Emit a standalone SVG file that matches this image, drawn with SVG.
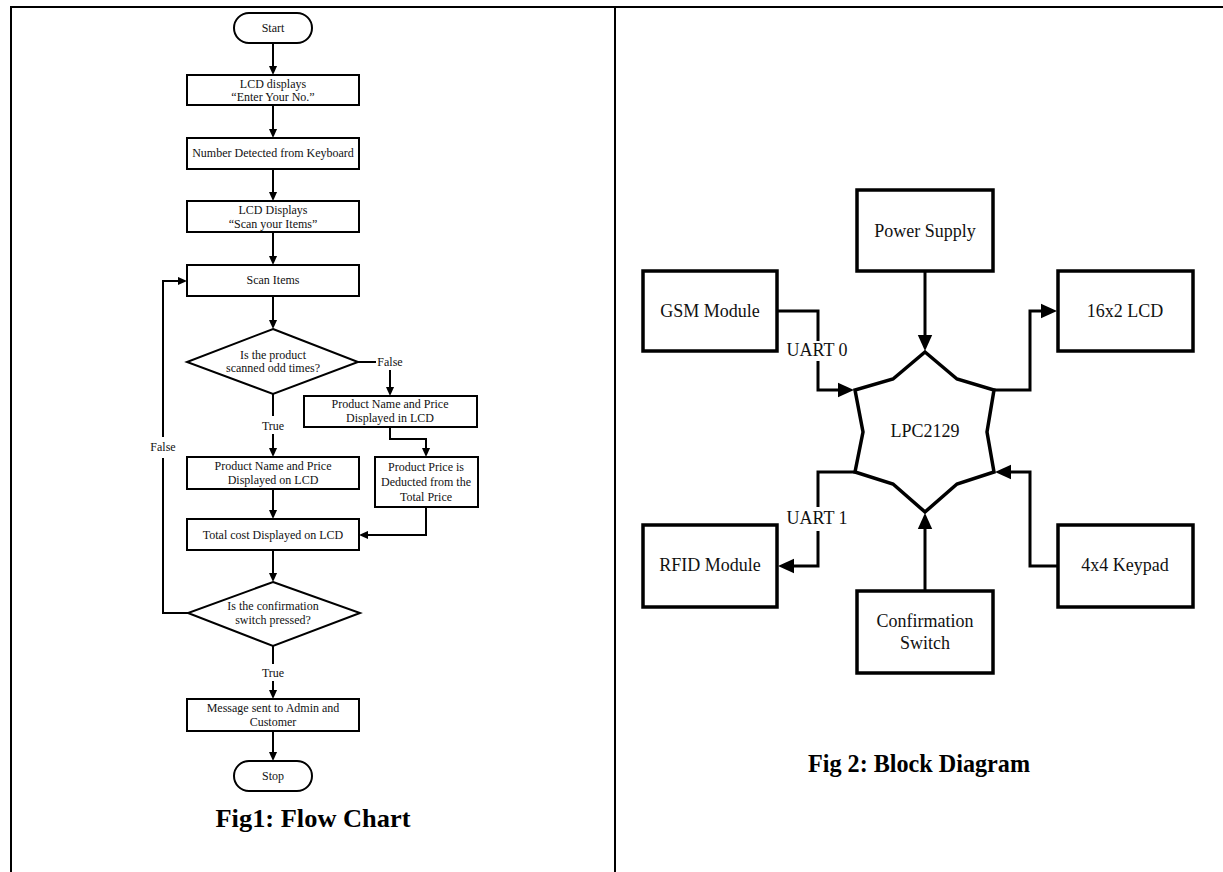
<svg xmlns="http://www.w3.org/2000/svg" width="1223" height="872" viewBox="0 0 1223 872">
  <style>
    .frame { stroke: #000; stroke-width: 2; fill: none; }
    .fc { fill: #fff; stroke: #000; stroke-width: 2; }
    .fl { fill: none; stroke: #000; stroke-width: 2; }
    .bd { fill: #fff; stroke: #000; stroke-width: 3.5; }
    .bl { fill: none; stroke: #000; stroke-width: 3; }
    .t12 { font-family: "Liberation Serif", "Times New Roman", serif; font-size: 12px; fill: #111; text-anchor: middle; }
    .t18 { font-family: "Liberation Serif", "Times New Roman", serif; font-size: 18px; fill: #111; text-anchor: middle; }
    .cap { font-family: "Liberation Serif", "Times New Roman", serif; font-size: 25px; font-weight: bold; fill: #000; text-anchor: middle; }
  </style>
  <defs>
    <marker id="arrS" viewBox="0 0 10 10" refX="0" refY="5" markerUnits="userSpaceOnUse" markerWidth="9" markerHeight="9" orient="auto">
      <path d="M0,0.5 L10,5 L0,9.5 Z" fill="#000"/>
    </marker>
    <marker id="arrL" viewBox="0 0 10 10" refX="0" refY="5" markerUnits="userSpaceOnUse" markerWidth="17" markerHeight="16" orient="auto">
      <path d="M0,0.5 L10,5 L0,9.5 Z" fill="#000"/>
    </marker>
  </defs>

  <rect width="1223" height="872" fill="#fff"/>

  <!-- table frame -->
  <g id="frame">
    <line class="frame" x1="10" y1="7" x2="1223" y2="7"/>
    <line class="frame" x1="11" y1="6" x2="11" y2="872" stroke-width="1.5"/>
    <line class="frame" x1="615" y1="6" x2="615" y2="872" stroke-width="1.5"/>
  </g>

  <!-- ===== flow chart ===== -->
  <g id="fc-connectors">
    <path class="fl" d="M273,43 V66" marker-end="url(#arrS)"/>
    <path class="fl" d="M273,105 V129" marker-end="url(#arrS)"/>
    <path class="fl" d="M273,169 V192" marker-end="url(#arrS)"/>
    <path class="fl" d="M273,232 V256" marker-end="url(#arrS)"/>
    <path class="fl" d="M273,296 V320" marker-end="url(#arrS)"/>
    <path class="fl" d="M358,362 H376"/>
    <path class="fl" d="M390,370 V387" marker-end="url(#arrS)"/>
    <path class="fl" d="M390,427 V439 H426 V448" marker-end="url(#arrS)"/>
    <path class="fl" d="M426,507 V535 H368" marker-end="url(#arrS)"/>
    <path class="fl" d="M273,394 V416"/>
    <path class="fl" d="M273,434 V448" marker-end="url(#arrS)"/>
    <path class="fl" d="M273,489 V510" marker-end="url(#arrS)"/>
    <path class="fl" d="M273,550 V573" marker-end="url(#arrS)"/>
    <path class="fl" d="M188,613 H163 V458"/>
    <path class="fl" d="M163,437 V281 H178" marker-end="url(#arrS)"/>
    <path class="fl" d="M273,646 V664"/>
    <path class="fl" d="M273,681 V690" marker-end="url(#arrS)"/>
    <path class="fl" d="M273,731 V752" marker-end="url(#arrS)"/>
    <text class="t12" x="390" y="366">False</text>
    <text class="t12" x="273" y="430">True</text>
    <text class="t12" x="163" y="451">False</text>
    <text class="t12" x="273" y="677">True</text>
  </g>

  <g id="fc-start">
    <rect class="fc" x="234" y="13" width="78" height="30" rx="15"/>
    <text class="t12" x="273" y="32">Start</text>
  </g>
  <g id="fc-enter-no">
    <rect class="fc" x="187" y="75" width="172" height="30"/>
    <text class="t12" x="273" y="88">LCD displays</text>
    <text class="t12" x="273" y="101">“Enter Your No.”</text>
  </g>
  <g id="fc-number">
    <rect class="fc" x="187" y="138" width="172" height="31"/>
    <text class="t12" x="273" y="157">Number Detected from Keyboard</text>
  </g>
  <g id="fc-scan-msg">
    <rect class="fc" x="187" y="201" width="172" height="31"/>
    <text class="t12" x="273" y="214">LCD Displays</text>
    <text class="t12" x="273" y="228">“Scan your Items”</text>
  </g>
  <g id="fc-scan">
    <rect class="fc" x="187" y="265" width="172" height="31"/>
    <text class="t12" x="273" y="284">Scan Items</text>
  </g>
  <g id="fc-odd">
    <polygon class="fc" points="273,329 358,362 273,394 187,362"/>
    <text class="t12" x="273" y="359">Is the product</text>
    <text class="t12" x="273" y="372">scanned odd times?</text>
  </g>
  <g id="fc-shown-in">
    <rect class="fc" x="304" y="396" width="173" height="31"/>
    <text class="t12" x="390" y="408">Product Name and Price</text>
    <text class="t12" x="390" y="422">Displayed in LCD</text>
  </g>
  <g id="fc-deduct">
    <rect class="fc" x="375" y="457" width="103" height="50"/>
    <text class="t12" x="426" y="471">Product Price is</text>
    <text class="t12" x="426" y="486">Deducted from the</text>
    <text class="t12" x="426" y="501">Total Price</text>
  </g>
  <g id="fc-shown-on">
    <rect class="fc" x="187" y="457" width="172" height="32"/>
    <text class="t12" x="273" y="470">Product Name and Price</text>
    <text class="t12" x="273" y="484">Displayed on LCD</text>
  </g>
  <g id="fc-total">
    <rect class="fc" x="187" y="519" width="172" height="31"/>
    <text class="t12" x="273" y="539">Total cost Displayed on LCD</text>
  </g>
  <g id="fc-confirm">
    <polygon class="fc" points="273,582 360,613 273,646 188,613"/>
    <text class="t12" x="273" y="610">Is the confirmation</text>
    <text class="t12" x="273" y="624">switch pressed?</text>
  </g>
  <g id="fc-message">
    <rect class="fc" x="187" y="699" width="172" height="32"/>
    <text class="t12" x="273" y="712">Message sent to Admin and</text>
    <text class="t12" x="273" y="726">Customer</text>
  </g>
  <g id="fc-stop">
    <rect class="fc" x="234" y="761" width="78" height="30" rx="15"/>
    <text class="t12" x="273" y="780">Stop</text>
  </g>
  <text class="cap" x="313" y="827" textLength="195" lengthAdjust="spacingAndGlyphs">Fig1: Flow Chart</text>

  <!-- ===== block diagram ===== -->
  <g id="bd-connectors">
    <path class="bl" d="M925,271 V335" marker-end="url(#arrL)"/>
    <path class="bl" d="M777,311 H818 V341"/>
    <path class="bl" d="M818,361 V390 H838" marker-end="url(#arrL)"/>
    <path class="bl" d="M994,390 H1030 V311 H1041" marker-end="url(#arrL)"/>
    <path class="bl" d="M855,472 H818 V507"/>
    <path class="bl" d="M818,531 V566 H794" marker-end="url(#arrL)"/>
    <path class="bl" d="M1058,566 H1030 V472 H1011" marker-end="url(#arrL)"/>
    <path class="bl" d="M925,591 V529" marker-end="url(#arrL)"/>
    <text class="t18" x="817" y="356">UART 0</text>
    <text class="t18" x="817" y="524">UART 1</text>
  </g>

  <g id="bd-mcu">
    <polygon class="bd" points="925,352 957,379 994,390 987,432 994,472 957,484 925,512 893,484 855,472 863,432 855,390 893,379"/>
    <text class="t18" x="925" y="437">LPC2129</text>
  </g>
  <g id="bd-power">
    <rect class="bd" x="857" y="190" width="136" height="81"/>
    <text class="t18" x="925" y="237">Power Supply</text>
  </g>
  <g id="bd-gsm">
    <rect class="bd" x="643" y="271" width="134" height="80"/>
    <text class="t18" x="710" y="317">GSM Module</text>
  </g>
  <g id="bd-lcd">
    <rect class="bd" x="1058" y="271" width="135" height="80"/>
    <text class="t18" x="1125" y="317">16x2 LCD</text>
  </g>
  <g id="bd-rfid">
    <rect class="bd" x="643" y="525" width="134" height="82"/>
    <text class="t18" x="710" y="571">RFID Module</text>
  </g>
  <g id="bd-keypad">
    <rect class="bd" x="1058" y="525" width="135" height="82"/>
    <text class="t18" x="1125" y="571">4x4 Keypad</text>
  </g>
  <g id="bd-switch">
    <rect class="bd" x="857" y="591" width="136" height="82"/>
    <text class="t18" x="925" y="627">Confirmation</text>
    <text class="t18" x="925" y="649">Switch</text>
  </g>
  <text class="cap" x="919" y="772" textLength="222" lengthAdjust="spacingAndGlyphs">Fig 2: Block Diagram</text>
</svg>
